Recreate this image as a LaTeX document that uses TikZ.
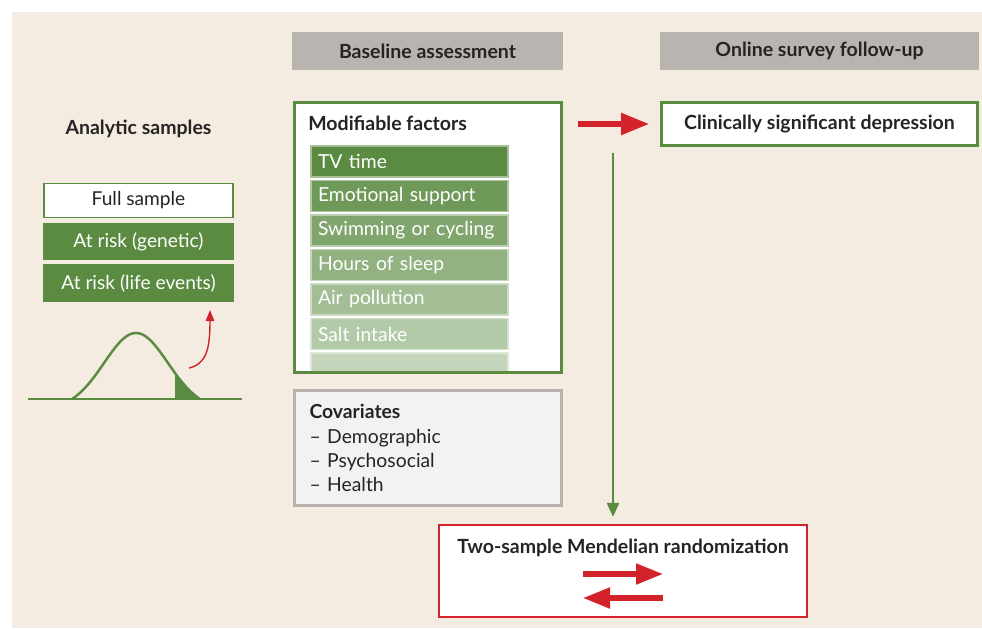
\documentclass[tikz,border=0pt]{standalone}
\usepackage{fontspec}
\setmainfont{Lato}
\usetikzlibrary{arrows.meta}

\definecolor{paper}{HTML}{F4ECE0}
\definecolor{headgray}{HTML}{B9B4AF}
\definecolor{leaf}{HTML}{5A8B41}
\definecolor{alarm}{HTML}{D2232A}
\definecolor{ink}{HTML}{262324}
\definecolor{covfill}{HTML}{F2F2F2}
\definecolor{covline}{HTML}{B8B3AE}

\tikzset{
    header/.style={fill=headgray, minimum width=5.42cm, minimum height=0.76cm,
        text=ink, font=\fontsize{11.1}{13}\selectfont\bfseries},
    sample/.style={fill=leaf, minimum width=3.82cm, minimum height=0.75cm,
        text=white, font=\fontsize{10.9}{13}\selectfont},
    factor/.style={fill=#1, draw=#1!55!white, line width=0.6pt,
        text width=3.66cm, inner xsep=0.14cm, minimum height=0.62cm,
        align=left, text=white, font=\fontsize{11}{13}\selectfont},
    bigred/.style={draw=alarm, line width=2.9pt,
        -{Triangle[length=0.56cm,width=0.42cm]}},
    title/.style={text=ink, font=\fontsize{11.1}{13}\selectfont\bfseries}
}

\begin{document}
\begin{tikzpicture}[x=0.02cm, y=-0.02cm]

\useasboundingbox (0,0) rectangle (982,628);
\fill[white] (0,0) rectangle (982,628);
\fill[paper] (12,12) rectangle (982,628);

\node[header] (base) at (427.5,51) {Baseline assessment};
\node[header, minimum width=6.38cm] (follow) at (819.5,51) {Online survey follow-up};

% analytic samples
\node[title] (samples) at (138.5,129) {Analytic samples};
\node[sample, fill=white, draw=leaf, line width=1.1pt, text=ink,
    minimum width=3.78cm, minimum height=0.68cm] (full) at (138.5,200.5) {Full sample};
\node[sample] (genetic) at (138.5,241.5) {At risk (genetic)};
\node[sample] (life) at (138.5,283) {At risk (life events)};

\draw[leaf, line width=1.4pt] (28,399) -- (242,399);
\draw[leaf, line width=1.4pt] plot[domain=72:200, samples=60, smooth]
    (\x, {399-66*(exp(-((\x-136)/32)*((\x-136)/32)/2)-0.135)/0.865});
\fill[leaf] (175,399) -- plot[domain=175:200, samples=20, smooth]
    (\x, {399-66*(exp(-((\x-136)/32)*((\x-136)/32)/2)-0.135)/0.865}) -- cycle;

\coordinate (tail) at (189,368);
\coordinate (tip) at (210,310);
\draw[alarm, line width=0.8pt, -{Triangle[length=0.22cm,width=0.17cm]}]
    (tail) .. controls (206,364) and (210,350) .. (tip);

% modifiable factors
\node[draw=leaf, line width=1.6pt, fill=white, minimum width=5.34cm,
    minimum height=5.40cm] (factors) at (428,237.5) {};
\node[title, anchor=west, inner sep=0pt] (ftitle) at (308,123) {Modifiable factors};

\fill[leaf!36!white] (311,353) rectangle (508,371);
\draw[leaf!36!white!55!white, line width=0.6pt] (311,371) -- (311,353) -- (508,353) -- (508,371);
\foreach \name/\shade [count=\i] in {TV time/100, Emotional support/88,
    Swimming or cycling/77, Hours of sleep/66, Air pollution/56, Salt intake/46}
{
    \node[factor=leaf!\shade!white] (item\i) at (409.5,{161.5+34.5*(\i-1)}) {\name};
}

\node[fill=covfill, draw=covline, line width=1.5pt, minimum width=5.34cm,
    minimum height=2.30cm, text width=4.74cm, inner xsep=0.3cm, align=left,
    text=ink, font=\fontsize{11}{13.7}\selectfont] (covar) at (428,448)
    {\textbf{Covariates}\\\textendash{} Demographic\\\textendash{} Psychosocial\\\textendash{} Health};

% outcome
\node[draw=leaf, line width=1.6pt, fill=white, minimum width=6.32cm,
    minimum height=0.86cm, title] (depress) at (819.5,124) {Clinically significant depression};

\draw[bigred, shorten <=0.3cm, shorten >=0.22cm] (factors.east |- depress.west) -- (depress.west);

% mendelian randomization
\node[draw=alarm, line width=1.3pt, fill=white, minimum width=7.36cm,
    minimum height=1.84cm] (mr) at (623,571) {};
\node[title] (mrtitle) at (623,548) {Two-sample Mendelian randomization};

\coordinate (split) at (613,153);
\draw[leaf, line width=1.4pt, -{Triangle[length=0.28cm,width=0.24cm]}, shorten >=0.14cm]
    (split) -- (split |- mr.north);

\coordinate (fwdA) at (583,574);
\coordinate (fwdB) at (663,574);
\coordinate (bckA) at (663,598);
\coordinate (bckB) at (583,598);
\draw[bigred, -{Triangle[length=0.54cm,width=0.4cm]}] (fwdA) -- (fwdB);
\draw[bigred, -{Triangle[length=0.54cm,width=0.4cm]}] (bckA) -- (bckB);

\end{tikzpicture}
\end{document}
